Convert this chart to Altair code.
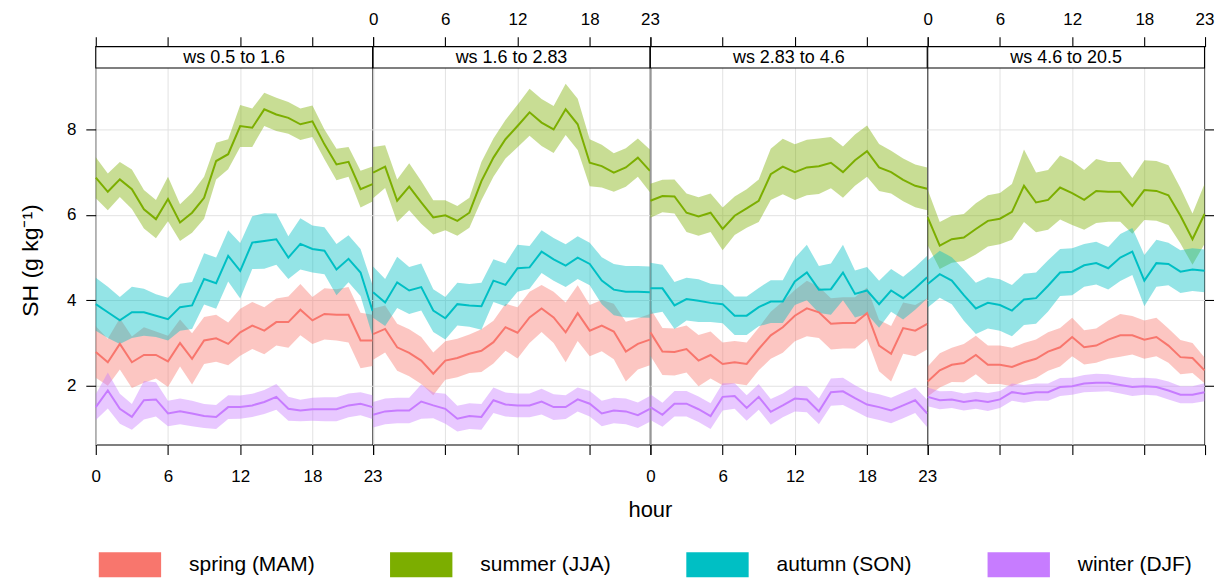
import altair as alt
import pandas as pd

hours = list(range(24))
ws_bins = ["ws 0.5 to 1.6", "ws 1.6 to 2.83", "ws 2.83 to 4.6", "ws 4.6 to 20.5"]
seasons = ["spring (MAM)", "summer (JJA)", "autumn (SON)", "winter (DJF)"]
colors = ["#F8766D", "#7CAE00", "#00BFC4", "#C77CFF"]
x_ticks = [0, 6, 12, 18, 23]
y_ticks = [2, 4, 6, 8]

# mean SH per hour, one list per wind-speed panel
spring_mean = [
    [2.79, 2.55, 2.98, 2.55, 2.72, 2.72, 2.57, 3.00, 2.63, 3.06, 3.11, 2.98, 3.25, 3.41, 3.29, 3.49, 3.49, 3.78, 3.53, 3.68, 3.66, 3.66, 3.06, 3.06],
    [3.21, 3.33, 2.90, 2.77, 2.59, 2.28, 2.59, 2.65, 2.75, 2.82, 3.02, 3.37, 3.24, 3.60, 3.81, 3.60, 3.25, 3.70, 3.29, 3.41, 3.27, 2.80, 2.98, 3.08],
    [3.25, 2.80, 2.79, 2.86, 2.59, 2.72, 2.51, 2.55, 2.51, 2.86, 3.18, 3.37, 3.64, 3.81, 3.72, 3.45, 3.47, 3.47, 3.70, 2.94, 2.75, 3.35, 3.29, 3.45],
    [2.10, 2.36, 2.49, 2.53, 2.72, 2.49, 2.49, 2.44, 2.55, 2.63, 2.80, 2.90, 3.14, 2.90, 2.94, 3.08, 3.18, 3.18, 3.08, 3.14, 2.94, 2.67, 2.65, 2.36],
]
summer_mean = [
    [6.87, 6.54, 6.83, 6.60, 6.13, 5.90, 6.37, 5.82, 6.05, 6.40, 7.26, 7.42, 8.08, 8.04, 8.47, 8.35, 8.27, 8.12, 8.19, 7.65, 7.18, 7.24, 6.60, 6.72],
    [6.99, 7.13, 6.33, 6.66, 6.29, 5.94, 5.99, 5.86, 6.05, 6.79, 7.34, 7.77, 8.08, 8.40, 8.16, 8.00, 8.47, 8.12, 7.22, 7.14, 6.99, 7.11, 7.34, 7.03],
    [6.33, 6.44, 6.43, 6.05, 5.96, 6.05, 5.67, 5.98, 6.15, 6.33, 6.95, 7.13, 7.00, 7.11, 7.14, 7.22, 7.00, 7.28, 7.49, 7.11, 7.00, 6.82, 6.68, 6.61],
    [5.94, 5.28, 5.43, 5.47, 5.67, 5.86, 5.91, 6.07, 6.68, 6.29, 6.35, 6.64, 6.51, 6.35, 6.56, 6.54, 6.54, 6.21, 6.58, 6.56, 6.46, 5.98, 5.43, 6.02],
]
autumn_mean = [
    [3.91, 3.72, 3.53, 3.72, 3.72, 3.64, 3.56, 3.84, 3.88, 4.50, 4.40, 5.04, 4.69, 5.35, 5.39, 5.43, 5.00, 5.32, 5.20, 5.16, 4.72, 4.97, 4.65, 3.75],
    [4.19, 3.95, 4.42, 4.23, 4.31, 3.76, 3.58, 3.91, 3.88, 3.86, 4.46, 4.36, 4.75, 4.77, 5.14, 4.96, 4.81, 5.00, 4.85, 4.46, 4.25, 4.20, 4.20, 4.19],
    [4.28, 4.28, 3.88, 4.03, 3.99, 3.94, 3.91, 3.64, 3.64, 3.84, 3.97, 3.97, 4.44, 4.65, 4.25, 4.26, 4.65, 4.15, 4.23, 3.91, 4.23, 4.05, 4.28, 4.54],
    [4.38, 4.61, 4.46, 4.12, 3.81, 3.94, 3.89, 3.76, 4.02, 4.05, 4.34, 4.65, 4.67, 4.82, 4.87, 4.75, 5.00, 5.14, 4.46, 4.87, 4.85, 4.67, 4.72, 4.69],
]
winter_mean = [
    [1.50, 1.89, 1.46, 1.27, 1.66, 1.68, 1.35, 1.40, 1.35, 1.29, 1.27, 1.50, 1.50, 1.54, 1.62, 1.74, 1.46, 1.42, 1.45, 1.45, 1.45, 1.54, 1.58, 1.50],
    [1.32, 1.40, 1.42, 1.42, 1.63, 1.54, 1.46, 1.23, 1.29, 1.27, 1.66, 1.56, 1.54, 1.54, 1.63, 1.50, 1.50, 1.68, 1.58, 1.35, 1.42, 1.40, 1.31, 1.46],
    [1.50, 1.32, 1.58, 1.58, 1.45, 1.29, 1.74, 1.76, 1.48, 1.74, 1.39, 1.54, 1.70, 1.68, 1.40, 1.85, 1.87, 1.71, 1.56, 1.50, 1.42, 1.54, 1.66, 1.35],
    [1.74, 1.66, 1.68, 1.62, 1.66, 1.62, 1.68, 1.85, 1.81, 1.85, 1.85, 1.97, 1.99, 2.05, 2.07, 2.07, 2.02, 1.97, 1.99, 1.97, 1.89, 1.79, 1.79, 1.85],
]

# half-width of the confidence band
spring_ci = [
    [0.60, 0.55, 0.60, 0.60, 0.65, 0.55, 0.60, 0.55, 0.60, 0.55, 0.55, 0.50, 0.55, 0.55, 0.55, 0.55, 0.60, 0.60, 0.55, 0.60, 0.60, 0.65, 0.65, 0.60],
    [0.60, 0.55, 0.55, 0.55, 0.55, 0.50, 0.45, 0.45, 0.45, 0.50, 0.50, 0.55, 0.60, 0.60, 0.55, 0.60, 0.70, 0.65, 0.60, 0.60, 0.65, 0.70, 0.60, 0.60],
    [0.55, 0.55, 0.55, 0.55, 0.60, 0.55, 0.50, 0.50, 0.50, 0.50, 0.55, 0.60, 0.60, 0.65, 0.60, 0.60, 0.60, 0.60, 0.60, 0.60, 0.65, 0.60, 0.60, 0.60],
    [0.35, 0.40, 0.40, 0.45, 0.45, 0.45, 0.45, 0.45, 0.45, 0.45, 0.45, 0.45, 0.45, 0.40, 0.40, 0.45, 0.50, 0.45, 0.45, 0.45, 0.40, 0.40, 0.35, 0.30],
]
summer_ci = [
    [0.48, 0.43, 0.41, 0.46, 0.45, 0.45, 0.52, 0.43, 0.47, 0.49, 0.43, 0.35, 0.49, 0.45, 0.39, 0.39, 0.37, 0.37, 0.37, 0.35, 0.37, 0.35, 0.43, 0.41],
    [0.60, 0.50, 0.50, 0.55, 0.50, 0.40, 0.35, 0.35, 0.35, 0.45, 0.45, 0.45, 0.50, 0.55, 0.55, 0.55, 0.60, 0.60, 0.55, 0.50, 0.45, 0.45, 0.45, 0.50],
    [0.40, 0.38, 0.40, 0.45, 0.45, 0.45, 0.50, 0.45, 0.45, 0.50, 0.60, 0.65, 0.65, 0.65, 0.65, 0.60, 0.60, 0.60, 0.60, 0.55, 0.50, 0.50, 0.50, 0.50],
    [0.65, 0.55, 0.55, 0.55, 0.60, 0.60, 0.60, 0.65, 0.85, 0.70, 0.70, 0.75, 0.75, 0.70, 0.75, 0.70, 0.70, 0.65, 0.70, 0.70, 0.70, 0.65, 0.60, 0.70],
]
autumn_ci = [
    [0.62, 0.60, 0.55, 0.60, 0.55, 0.50, 0.50, 0.55, 0.55, 0.60, 0.60, 0.60, 0.65, 0.62, 0.65, 0.60, 0.50, 0.60, 0.55, 0.55, 0.60, 0.55, 0.55, 0.60],
    [0.60, 0.55, 0.60, 0.55, 0.55, 0.50, 0.50, 0.50, 0.50, 0.55, 0.50, 0.50, 0.55, 0.50, 0.50, 0.50, 0.50, 0.50, 0.50, 0.55, 0.60, 0.60, 0.60, 0.60],
    [0.60, 0.55, 0.55, 0.50, 0.50, 0.45, 0.45, 0.45, 0.45, 0.45, 0.50, 0.50, 0.55, 0.65, 0.55, 0.60, 0.65, 0.55, 0.55, 0.55, 0.50, 0.50, 0.50, 0.50],
    [0.55, 0.55, 0.55, 0.60, 0.60, 0.60, 0.60, 0.60, 0.60, 0.60, 0.60, 0.55, 0.55, 0.50, 0.50, 0.50, 0.55, 0.55, 0.60, 0.55, 0.50, 0.50, 0.50, 0.50],
]
winter_ci = [
    [0.30, 0.42, 0.35, 0.30, 0.45, 0.40, 0.30, 0.30, 0.30, 0.28, 0.28, 0.28, 0.27, 0.27, 0.28, 0.30, 0.28, 0.25, 0.27, 0.28, 0.28, 0.28, 0.27, 0.28],
    [0.30, 0.30, 0.30, 0.30, 0.40, 0.30, 0.35, 0.30, 0.30, 0.30, 0.30, 0.28, 0.28, 0.28, 0.30, 0.30, 0.28, 0.28, 0.30, 0.30, 0.30, 0.30, 0.30, 0.30],
    [0.30, 0.28, 0.30, 0.30, 0.30, 0.30, 0.32, 0.30, 0.30, 0.30, 0.30, 0.28, 0.30, 0.30, 0.30, 0.32, 0.32, 0.30, 0.30, 0.30, 0.30, 0.30, 0.30, 0.32],
    [0.22, 0.21, 0.20, 0.20, 0.20, 0.21, 0.20, 0.20, 0.21, 0.20, 0.20, 0.21, 0.20, 0.20, 0.21, 0.20, 0.20, 0.21, 0.20, 0.20, 0.21, 0.20, 0.20, 0.21],
]

means = [spring_mean, summer_mean, autumn_mean, winter_mean]
cis = [spring_ci, summer_ci, autumn_ci, winter_ci]

FONT = "Liberation Sans"
W = 277.5
H = 399
STRIP = 21.5
Y_DOMAIN = [0.622, 9.938]
GRID = "#e2e2e2"

x_scale = alt.Scale(domain=[0, 23], nice=False, zero=False)
y_scale = alt.Scale(domain=Y_DOMAIN, nice=False, zero=False)
c_scale = alt.Scale(domain=seasons, range=colors)


def panel(i):
    rows = []
    for k, s in enumerate(seasons):
        for h in hours:
            m = means[k][i][h]
            c = cis[k][i][h]
            rows.append({"season": s, "ord": k, "hour": h, "mean": m,
                         "lo": m - c, "hi": m + c})
    df = pd.DataFrame(rows)
    base = alt.Chart(df)

    bottom_axis = alt.Axis(
        orient="bottom", values=x_ticks, grid=True, gridColor=GRID, gridWidth=1,
        domain=False, ticks=True, tickSize=10, tickColor="black", tickWidth=1.1,
        labels=(i in (0, 2)), labelFontSize=17, labelFont=FONT, labelColor="black",
        labelPadding=14, labelFlush=False, labelOverlap=False,
        titleFontSize=22, titleFont=FONT, titleFontWeight="normal", titleColor="black",
        titleX=W, titleY=65, titleAlign="center", titleBaseline="middle",
    )
    top_axis = alt.Axis(
        orient="top", values=x_ticks, grid=False, domain=False, ticks=True,
        tickSize=10, tickColor="black", tickWidth=1.1,
        labels=(i in (1, 3)), labelFontSize=17, labelFont=FONT, labelColor="black",
        labelPadding=8, labelFlush=False, labelOverlap=False,
    )
    if i == 0:
        left_axis = alt.Axis(
            orient="left", values=y_ticks, grid=True, gridColor=GRID, gridWidth=1,
            domain=False, ticks=True, tickSize=10, tickColor="black", tickWidth=1.1,
            labels=True, labelFontSize=17, labelFont=FONT, labelColor="black",
            labelPadding=10, labelOverlap=False,
            titleFontSize=23, titleFont=FONT, titleFontWeight="normal",
            titleColor="black", titlePadding=23.5, titleY=214,
        )
        y_title = "SH (g kg\u207b\u00b9)"
    else:
        left_axis = alt.Axis(
            orient="left", values=y_ticks, grid=True, gridColor=GRID, gridWidth=1,
            domain=False, ticks=False, labels=False,
        )
        y_title = None

    if i == 3:
        right_axis = alt.Axis(
            orient="right", values=y_ticks, grid=False, domain=False, ticks=True,
            tickSize=9, tickColor="black", tickWidth=1.1, labels=False,
        )
    else:
        right_axis = None

    if i == 0:
        legend = alt.Legend(
            orient="none", legendX=21.75, legendY=507, direction="horizontal",
            columns=4, gridAlign="each", title=None, padding=0,
            symbolType="M-2.5,-1H2.5V1H-2.5Z", symbolSize=625, symbolStrokeWidth=0,
            symbolOpacity=1, labelFontSize=21, labelFont=FONT, labelColor="black",
            labelOffset=46.75, columnPadding=75,
        )
    else:
        legend = None

    band = base.mark_area(opacity=0.42).encode(
        x=alt.X("hour:Q", scale=x_scale, axis=bottom_axis,
                title=("hour" if i == 1 else None)),
        y=alt.Y("lo:Q", scale=y_scale, axis=left_axis, title=y_title, stack=None),
        y2="hi:Q",
        color=alt.Color("season:N", scale=c_scale, legend=legend),
        order=alt.Order("ord:Q"),
    )
    line = base.mark_line(strokeWidth=2).encode(
        x=alt.X("hour:Q", scale=x_scale, axis=top_axis, title=None),
        y=alt.Y("mean:Q", scale=y_scale, axis=right_axis, title=None),
        color=alt.Color("season:N", scale=c_scale, legend=None),
    )
    sdf = pd.DataFrame({"label": [ws_bins[i]]})
    strip = alt.Chart(sdf).mark_rect(fill="white", stroke="black", strokeWidth=1.1).encode(
        x=alt.value(0), x2=alt.value(W), y=alt.value(0), y2=alt.value(STRIP)
    )
    stext = alt.Chart(sdf).mark_text(font=FONT, fontSize=18, color="black",
                                      baseline="middle", align="center").encode(
        x=alt.value(W / 2), y=alt.value(STRIP / 2 + 0.5), text="label:N"
    )
    return alt.layer(band, line, strip, stext).resolve_axis(
        x="independent", y="independent"
    ).properties(width=W, height=H)


chart = alt.hconcat(
    *[panel(i) for i in range(4)], spacing=0, bounds="flush"
).resolve_scale(color="shared").properties(
    padding={"left": 11, "top": 1, "right": 0, "bottom": 0},
    background="white",
).configure_view(stroke="black", strokeWidth=1.1).configure_axisLeft(
    titleFontSize=23, titleFont=FONT, titleFontWeight="normal"
)

chart.save("out.html", embed_options={"renderer": "svg", "actions": False})
